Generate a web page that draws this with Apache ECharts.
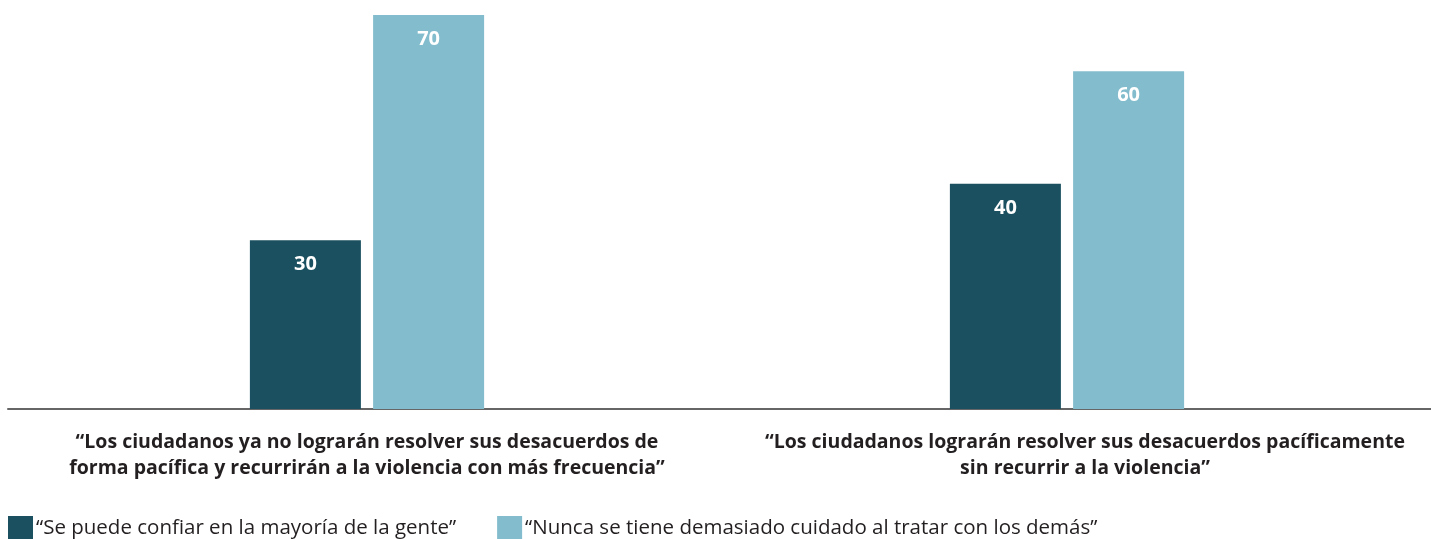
<!DOCTYPE html>
<html>
<head>
<meta charset="utf-8">
<script src="https://cdn.jsdelivr.net/npm/echarts@6/dist/echarts.min.js"></script>
<style>
  html, body { margin: 0; padding: 0; background: #fff; }
  #chart_ref { width: 1431px; height: 539px; }
</style>
</head>
<body>
<div id="chart_ref"></div>
<script>
// categorias (frases) y valores en %
const categories = [
  '“Los ciudadanos ya no lograrán resolver sus desacuerdos de\nforma pacífica y recurrirán a la violencia con más frecuencia”',
  '“Los ciudadanos lograrán resolver sus desacuerdos pacíficamente\nsin recurrir a la violencia”'
]
const seriesNames = [
  '“Se puede confiar en la mayoría de la gente”',
  '“Nunca se tiene demasiado cuidado al tratar con los demás”'
]
const confiarValues = [30, 40]
const cuidadoValues = [70, 60]

const darkColor = '#1a505f'
const lightColor = '#83bdcd'
const textColor = '#231f20'
const fontFamily = '"Open Sans", sans-serif'

const chartDom = document.getElementById('chart_ref')
const myChart = echarts.init(chartDom)

const valueLabel = {
  show: true,
  position: 'insideTop',
  distance: 14,
  color: '#fff',
  fontWeight: 'bold',
  fontSize: 20,
  fontFamily: fontFamily
}

const option = {
  animation: false,
  grid: [
    { left: 17, right: 14, top: 15, bottom: 130 },
    // solo para la linea base que ocupa todo el ancho
    { left: 8, right: 0, top: 15, bottom: 130 }
  ],
  legend: {
    left: 8,
    top: 516,
    padding: 0,
    itemWidth: 25,
    itemHeight: 25,
    itemGap: 41,
    icon: 'rect',
    textStyle: {
      color: textColor,
      fontSize: 20.5,
      fontFamily: fontFamily,
      padding: [0, 0, 0, -2]
    },
    data: seriesNames
  },
  xAxis: [
    {
      type: 'category',
      gridIndex: 0,
      data: categories,
      axisLine: { show: false },
      axisTick: { show: false },
      axisLabel: {
        interval: 0,
        margin: 20,
        formatter: (value, idx) => idx === 1 ? '{b|' + value.replace('\n', '}\n{b|') + '}' : '{a|' + value.replace('\n', '}\n{a|') + '}',
        rich: {
          a: {
            color: textColor, fontSize: 19.5, fontWeight: 'bold', fontFamily: fontFamily,
            lineHeight: 26, align: 'center'
          },
          b: {
            color: textColor, fontSize: 19.5, fontWeight: 'bold', fontFamily: fontFamily,
            lineHeight: 26, align: 'center', padding: [0, 0, 0, 36]
          }
        }
      }
    },
    {
      type: 'category',
      gridIndex: 1,
      data: categories,
      axisLine: { show: true, lineStyle: { color: '#666', width: 2 } },
      axisTick: { show: false },
      axisLabel: { show: false }
    }
  ],
  yAxis: [
    { type: 'value', gridIndex: 0, min: 0, max: 70, show: false },
    { type: 'value', gridIndex: 1, min: 0, max: 70, show: false }
  ],
  series: [
    {
      name: seriesNames[0],
      type: 'bar',
      barWidth: 111,
      barGap: '11%',
      itemStyle: { color: darkColor },
      label: valueLabel,
      data: confiarValues
    },
    {
      name: seriesNames[1],
      type: 'bar',
      barWidth: 111,
      barGap: '11%',
      itemStyle: { color: lightColor },
      label: valueLabel,
      data: cuidadoValues
    }
  ]
}

option && myChart.setOption(option)
</script>
</body>
</html>
